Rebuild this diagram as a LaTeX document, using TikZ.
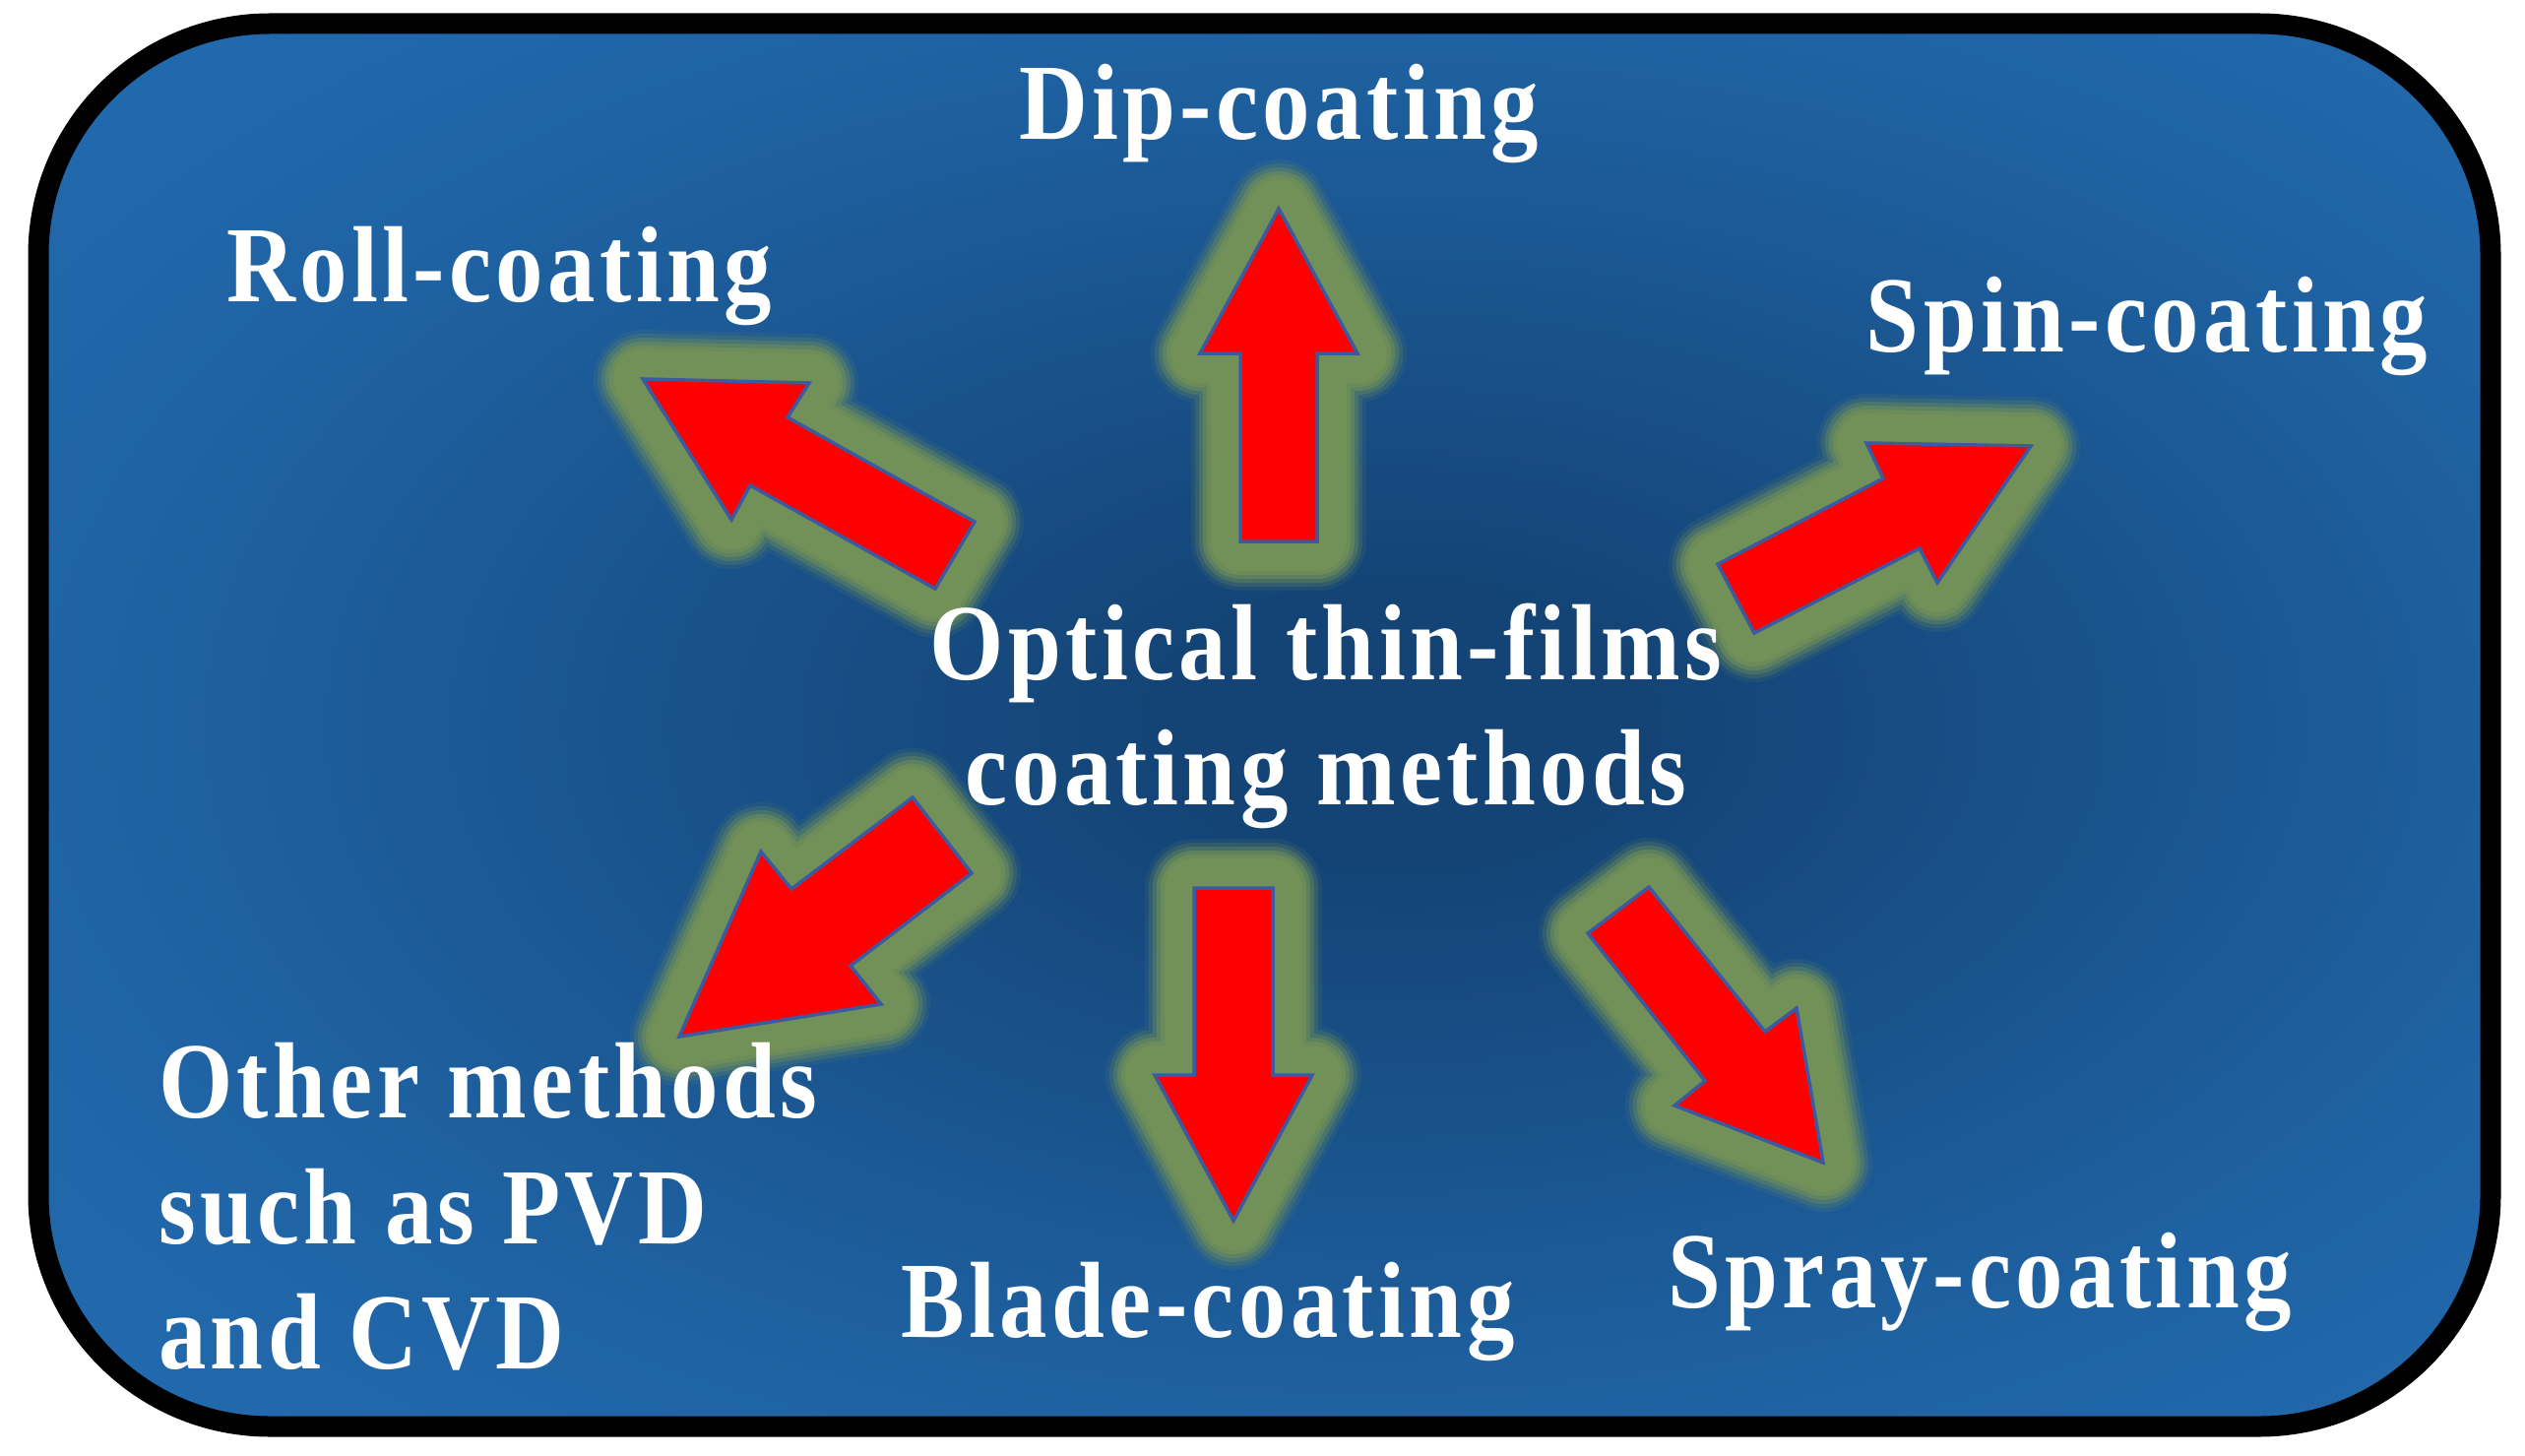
\documentclass[tikz,border=0pt]{standalone}
\usepackage{fontspec}
\setmainfont{Liberation Serif}[FakeStretch=0.88, LetterSpace=4]
\definecolor{bgin}{RGB}{20,68,118}
\definecolor{bgout}{RGB}{38,118,192}
\definecolor{glowc}{RGB}{114,145,88}
\definecolor{arrowline}{RGB}{60,90,160}
\pgfdeclareradialshading{bgshade}{\pgfpoint{3bp}{0bp}}{color(0bp)=(bgin); color(5bp)=(bgin); color(25bp)=(bgout!60!bgin); color(45bp)=(bgout!92!bgin); color(58bp)=(bgout); color(80bp)=(bgout)}
\tikzset{
  glowA/.style={draw=glowc, line width=100, line join=round, draw opacity=0.12},
  glowB/.style={draw=glowc, line width=92, line join=round, draw opacity=0.22},
  glowC/.style={draw=glowc, line width=84, line join=round, draw opacity=0.35},
  glowD/.style={draw=glowc, line width=76, line join=round, draw opacity=0.5},
  glowE/.style={draw=glowc, line width=68, line join=round, draw opacity=0.7},
  glowF/.style={draw=glowc, fill=glowc, line width=60, line join=round},
  redarrow/.style={fill=red, draw=arrowline, line width=3.5, line join=miter},
  lbl/.style={text=white, font=\fontsize{110pt}{128pt}\selectfont\bfseries, inner sep=0pt},
  frame/.style={draw=black, line width=21, rounded corners=235, shading=bgshade},
}
\newcommand\glowarrow[1]{\path[glowA] #1; \path[glowB] #1; \path[glowC] #1; \path[glowD] #1; \path[glowE] #1; \path[glowF] #1; \path[redarrow] #1;}
\begin{document}
\begin{tikzpicture}[x=1pt, y=-1pt]
\useasboundingbox (0,0) rectangle (2565,1479);
\fill[white] (0,0) rectangle (2565,1479);
\path[frame] (39,24) rectangle (2530,1449);
% arrows
\glowarrow{(1299,212) -- (1379,359) -- (1338,359) -- (1338,550) -- (1260,550) -- (1260,359) -- (1219,359) -- cycle}
\glowarrow{(1213,902) -- (1293,902) -- (1293,1092) -- (1333,1092) -- (1253,1240) -- (1173,1092) -- (1213,1092) -- cycle}
\glowarrow{(653,385) -- (822,389) -- (800,424) -- (990,530) -- (950,598) -- (762,493) -- (743,528) -- cycle}
\glowarrow{(1745,573) -- (1913,486) -- (1896,450) -- (2063,453) -- (1968,592) -- (1950,557) -- (1782,643) -- cycle}
\glowarrow{(927,810) -- (987,887) -- (864,981) -- (895,1020) -- (690,1053) -- (773,865) -- (804,903) -- cycle}
\glowarrow{(1675,901) -- (1793,1048) -- (1825,1024) -- (1852,1181) -- (1701,1123) -- (1732,1098) -- (1613,948) -- cycle}
% labels
\node[lbl, anchor=base] (dip) at (1299,142) {Dip-coating};
\node[lbl, anchor=base] (roll) at (507,307) {Roll-coating};
\node[lbl, anchor=base] (spin) at (2181,357) {Spin-coating};
\node[lbl, anchor=base] (opt1) at (1347,690) {Optical thin-films};
\node[lbl, anchor=base] (opt2) at (1347,817) {coating methods};
\node[lbl, anchor=base west] (oth1) at (161,1135) {Other methods};
\node[lbl, anchor=base west] (oth2) at (161,1263) {such as PVD};
\node[lbl, anchor=base west] (oth3) at (161,1390) {and CVD};
\node[lbl, anchor=base] (blade) at (1227,1358) {Blade-coating};
\node[lbl, anchor=base] (spray) at (2011,1328) {Spray-coating};
\end{tikzpicture}
\end{document}
